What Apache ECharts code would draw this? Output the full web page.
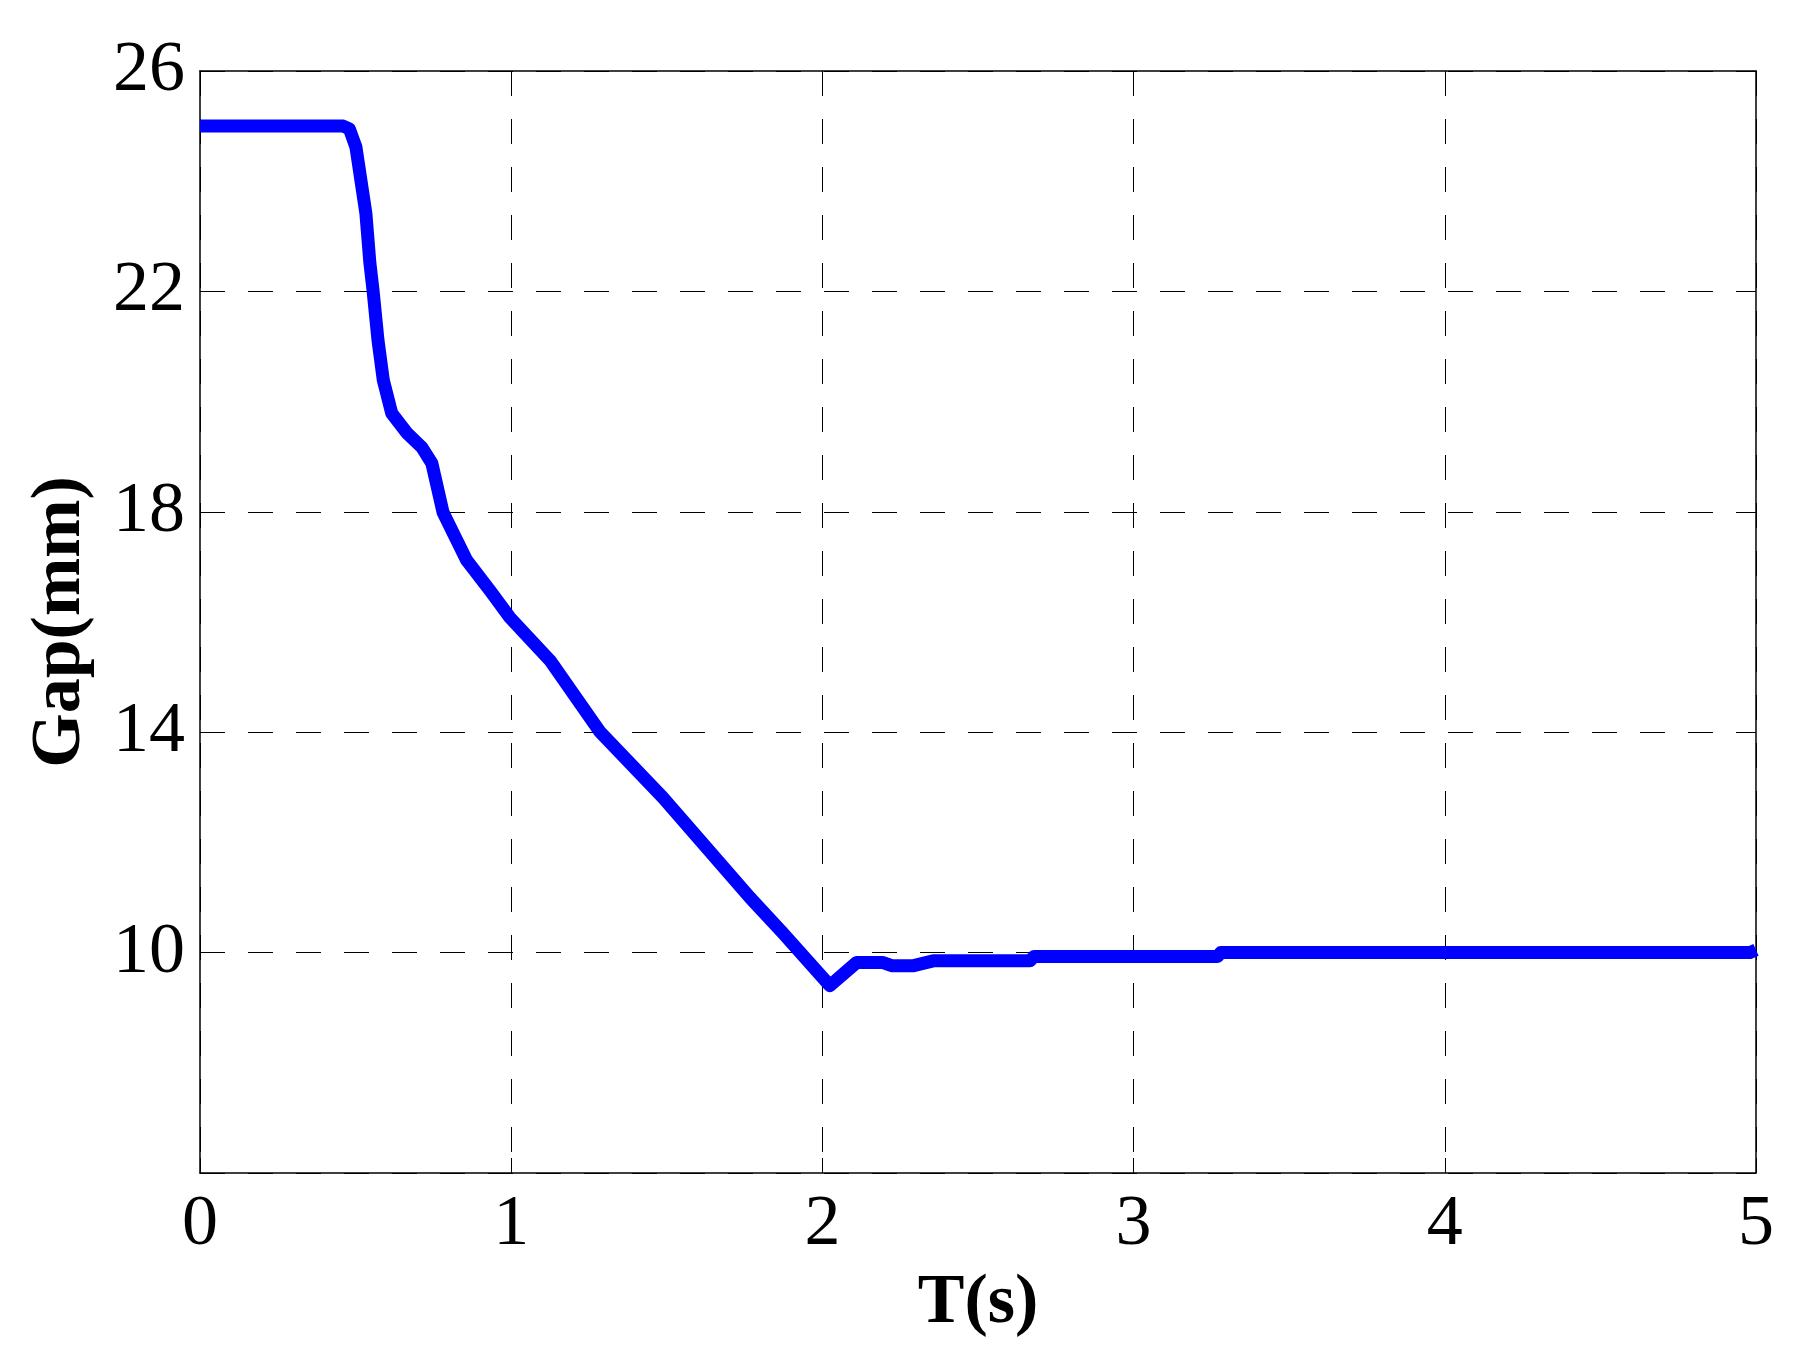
<!DOCTYPE html>
<html>
<head>
<meta charset="utf-8">
<script src="https://cdn.jsdelivr.net/npm/echarts@6/dist/echarts.min.js"></script>
<style>
  html, body { margin: 0; padding: 0; background: #fff; }
  #chart { width: 1802px; height: 1354px; }
</style>
</head>
<body>
<div id="chart"></div>
<script>
// time (s) and gap (mm)
const timeS = [0, 0.46, 0.48, 0.501, 0.533, 0.546, 0.556, 0.572, 0.589, 0.616, 0.665, 0.713, 0.745,
  0.781, 0.857, 0.932, 0.996, 1.125, 1.285, 1.488, 1.767, 1.874, 2.024, 2.11, 2.195, 2.225, 2.29,
  2.356, 2.667, 2.68, 3.27, 3.28, 4.98, 5];
const gapMm = [25, 25, 24.95, 24.62, 23.42, 22.51, 22.02, 21.11, 20.39, 19.79, 19.43, 19.17, 18.88,
  17.99, 17.12, 16.57, 16.08, 15.30, 14.01, 12.81, 11.0, 10.35, 9.40, 9.82, 9.82, 9.76, 9.76,
  9.85, 9.85, 9.93, 9.93, 10.0, 10.0, 10.05];

const xTicks = { min: 0, max: 5, interval: 1 };
const yTicks = { min: 6, max: 26, interval: 4 };

const font = "'Liberation Serif', 'Times New Roman', serif";
const chart = echarts.init(document.getElementById('chart'));

const gridDash = {
  show: true,
  lineStyle: { color: '#000', width: 1, type: [25, 23] }
};

const option = {
  animation: false,
  backgroundColor: '#fff',
  grid: { left: 200, top: 71, right: 46, bottom: 181 },
  xAxis: [{
    type: 'value',
    min: xTicks.min, max: xTicks.max, interval: xTicks.interval,
    name: 'T(s)',
    nameLocation: 'middle',
    nameGap: 96,
    nameTextStyle: { fontFamily: font, fontSize: 70, fontWeight: 'bold', color: '#000' },
    axisLine: { show: true, onZero: false, lineStyle: { color: '#000', width: 1.5 } },
    axisTick: { show: true, inside: true, length: 15, lineStyle: { color: '#000' } },
    axisLabel: { fontFamily: font, fontSize: 72, color: '#000', margin: 16 },
    splitLine: gridDash
  }, {
    type: 'value', position: 'top',
    min: xTicks.min, max: xTicks.max, interval: xTicks.interval,
    axisLine: { show: true, onZero: false, lineStyle: { color: '#000', width: 1.5 } },
    axisTick: { show: true, inside: true, length: 15, lineStyle: { color: '#000' } },
    axisLabel: { show: false },
    splitLine: { show: false }
  }],
  yAxis: [{
    type: 'value',
    min: yTicks.min, max: yTicks.max, interval: yTicks.interval,
    name: 'Gap(mm)',
    nameLocation: 'middle',
    nameGap: 104,
    nameTextStyle: { fontFamily: font, fontSize: 70, fontWeight: 'bold', color: '#000' },
    axisLine: { show: true, onZero: false, lineStyle: { color: '#000', width: 1.5 } },
    axisTick: { show: true, inside: true, length: 15, lineStyle: { color: '#000' } },
    axisLabel: {
      fontFamily: font, fontSize: 72, color: '#000', margin: 15,
      formatter: v => (v === yTicks.min ? '' : String(v))
    },
    splitLine: gridDash
  }, {
    type: 'value', position: 'right',
    min: yTicks.min, max: yTicks.max, interval: yTicks.interval,
    axisLine: { show: true, onZero: false, lineStyle: { color: '#000', width: 1.5 } },
    axisTick: { show: true, inside: true, length: 15, lineStyle: { color: '#000' } },
    axisLabel: { show: false },
    splitLine: { show: false }
  }],
  series: [{
    type: 'line',
    xAxisIndex: 0,
    yAxisIndex: 0,
    data: timeS.map((t, i) => [t, gapMm[i]]),
    showSymbol: false,
    smooth: false,
    lineStyle: { color: '#0000ff', width: 13, cap: 'butt', join: 'round' }
  }]
};

chart.setOption(option);
</script>
</body>
</html>
